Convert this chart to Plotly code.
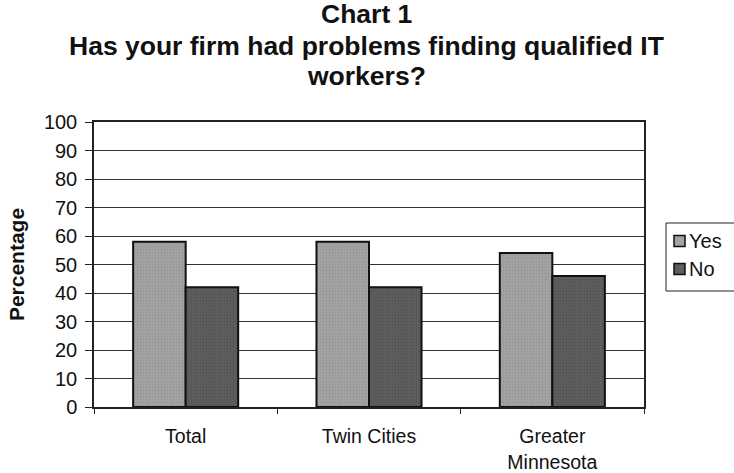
import plotly.graph_objects as go

categories = ["Total", "Twin Cities", "Greater<br>Minnesota"]
yes_pct = [58, 58, 54]
no_pct = [42, 42, 46]
y_ticks = list(range(0, 101, 10))
series_names = ["Yes", "No"]
series_colors = ["#a3a3a3", "#5e5e5e"]
pattern_colors = ["#8a8a8a", "#474747"]
title_lines = [
    "Chart 1",
    "Has your firm had problems finding qualified IT",
    "workers?",
]
title_line_y = [14, 46, 76]  # pixel centres of each title line from the top

W, H = 734, 473
M = dict(l=94, r=90, t=122, b=66)
plot_w = W - M["l"] - M["r"]
plot_h = H - M["t"] - M["b"]


def px_x(x):
    return (x - M["l"]) / plot_w


def px_y(y):
    return (H - M["b"] - y) / plot_h


fig = go.Figure()
for name, vals, col, pcol in zip(series_names, [yes_pct, no_pct], series_colors, pattern_colors):
    fig.add_trace(go.Bar(
        x=categories, y=vals, name=name, showlegend=False,
        marker=dict(color=col, line=dict(color="#111111", width=2),
                    pattern=dict(shape=".", fgcolor=pcol, size=3, solidity=0.3)),
    ))

for line, py in zip(title_lines, title_line_y):
    fig.add_annotation(
        text=f"<b>{line}</b>", showarrow=False,
        xref="paper", yref="paper",
        x=px_x(366), xanchor="center",
        y=px_y(py), yanchor="middle",
        font=dict(size=26.5, color="#111111"),
    )

# Legend box with swatches, drawn in the right margin
fig.add_shape(type="rect", xref="paper", yref="paper",
              x0=px_x(666), x1=px_x(745), y0=px_y(291), y1=px_y(223),
              line=dict(color="#222222", width=1), fillcolor="white")
for i, (name, col) in enumerate(zip(series_names, series_colors)):
    cy = 241 + 28 * i
    fig.add_shape(type="rect", xref="paper", yref="paper",
                  x0=px_x(674), x1=px_x(685), y0=px_y(cy + 5.5), y1=px_y(cy - 5.5),
                  line=dict(color="#111111", width=1.5), fillcolor=col)
    fig.add_annotation(text=name, showarrow=False, xref="paper", yref="paper",
                       x=px_x(687), xanchor="left", y=px_y(cy), yanchor="middle",
                       font=dict(size=20, color="#111111"))

fig.update_layout(
    width=W, height=H,
    margin=dict(**M, autoexpand=False),
    paper_bgcolor="white", plot_bgcolor="white",
    barmode="group", bargap=0.427, bargroupgap=0,
    font=dict(family="Liberation Sans, Arial, sans-serif", size=20, color="#111111"),
    showlegend=False,
)
fig.update_xaxes(
    showline=True, linecolor="#222222", linewidth=1.5, mirror=True,
    ticks="outside", tickson="boundaries", ticklen=5, tickcolor="#222222",
    showgrid=False, tickfont=dict(size=19.5), ticklabelstandoff=11,
)
fig.update_yaxes(
    range=[0, 100], tickvals=y_ticks, ticktext=[str(t) for t in y_ticks],
    showline=True, linecolor="#222222", linewidth=1.5, mirror=True,
    ticks="outside", ticklen=7, tickcolor="#222222",
    showgrid=True, gridcolor="#333333", gridwidth=1,
    tickfont=dict(size=20), ticklabelstandoff=4,
    title=dict(text="<b>Percentage</b>", font=dict(size=21), standoff=14),
)

fig.write_html("out.html")
